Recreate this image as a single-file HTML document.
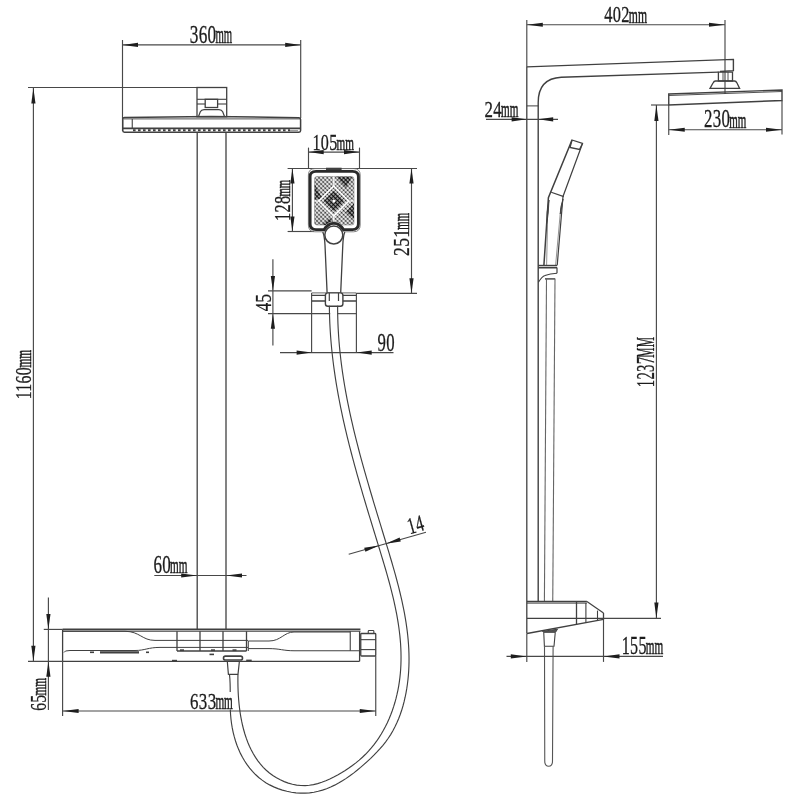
<!DOCTYPE html>
<html><head><meta charset="utf-8"><style>
html,body{margin:0;padding:0;background:#fff;}
svg{display:block;will-change:transform;}
text{font-family:"Liberation Serif",serif;fill:#1c1c1c;}
text{stroke:#1c1c1c;stroke-width:0.3;}
text.mm{stroke:#1c1c1c;stroke-width:0.55;}
</style></head><body>
<svg width="800" height="800" viewBox="0 0 800 800">
<rect width="800" height="800" fill="#fff"/>
<line x1="122.5" y1="44.9" x2="300.7" y2="44.9" stroke="#484848" stroke-width="1.15"/>
<polygon points="122.50,44.90 138.00,42.80 138.00,47.00" fill="#1e1e1e"/>
<polygon points="300.70,44.90 285.20,47.00 285.20,42.80" fill="#1e1e1e"/>
<line x1="122.5" y1="40" x2="122.5" y2="131" stroke="#484848" stroke-width="1.15"/>
<line x1="300.7" y1="40" x2="300.7" y2="118" stroke="#484848" stroke-width="1.15"/>
<g transform="scale(0.6995,1)"><text x="271.18" y="43" font-size="24.66" letter-spacing="0.474">360</text></g>
<text class="mm" x="215.48" y="43" font-size="25.53" textLength="16.73" lengthAdjust="spacingAndGlyphs">mm</text>
<line x1="28" y1="87.5" x2="226" y2="87.5" stroke="#484848" stroke-width="1.15"/>
<line x1="33.4" y1="88" x2="33.4" y2="661.3" stroke="#484848" stroke-width="1.15"/>
<polygon points="33.40,88.00 35.50,103.50 31.30,103.50" fill="#1e1e1e"/>
<polygon points="33.40,661.30 31.30,645.80 35.50,645.80" fill="#1e1e1e"/>
<g transform="translate(30.8,398.6) rotate(-90)">
<g transform="scale(0.6648,1)"><text x="-1.13" y="0" font-size="23.76" letter-spacing="0.457">1160</text></g>
<text class="mm" x="31.07" y="0" font-size="22.34" textLength="17.76" lengthAdjust="spacingAndGlyphs">mm</text>
</g>
<rect x="197" y="87.5" width="29.7" height="29.2" rx="0" stroke="#404040" stroke-width="1.3" fill="none"/>
<line x1="197" y1="99.3" x2="226.7" y2="99.3" stroke="#404040" stroke-width="1.1"/>
<rect x="205.2" y="99.3" width="12.4" height="8.2" rx="0" stroke="#404040" stroke-width="1.3" fill="none"/>
<line x1="197" y1="104" x2="205.2" y2="104" stroke="#404040" stroke-width="1.1"/>
<line x1="217.6" y1="104" x2="226.7" y2="104" stroke="#404040" stroke-width="1.1"/>
<path d="M198.5,116.5 L200.3,111.8 Q201.3,109.6 204,109.6 L219,109.6 Q221.7,109.6 222.7,111.8 L224.5,116.5" stroke="#404040" stroke-width="1.2" fill="none" />
<path d="M122.75,130 L122.75,119 Q122.75,117.5 124.5,117.5 L211,116.4 L299,117.8 Q300.6,118 300.6,119.5 L300.6,130.5 Q300.6,132.2 299,132.2 L124.5,132.2 Q122.75,132.2 122.75,130.5 Z" stroke="#404040" stroke-width="1.5" fill="none" />
<line x1="123.5" y1="118.9" x2="300" y2="118.9" stroke="#404040" stroke-width="0.9"/>
<line x1="132.25" y1="118.9" x2="132.25" y2="128.3" stroke="#404040" stroke-width="1.1"/>
<line x1="122.75" y1="128.4" x2="300.6" y2="128.4" stroke="#404040" stroke-width="1.6"/>
<path d="M133,130.2 L290,130.2" stroke="#404040" stroke-width="1.9" fill="none" stroke-dasharray="2.6,2.4"/>
<line x1="290" y1="130.6" x2="298" y2="130.6" stroke="#777" stroke-width="0.8"/>
<line x1="197.2" y1="132.3" x2="197.2" y2="629.4" stroke="#404040" stroke-width="1.3"/>
<line x1="226" y1="132.3" x2="226" y2="629.4" stroke="#404040" stroke-width="1.3"/>
<line x1="154.3" y1="575.5" x2="246.5" y2="575.5" stroke="#484848" stroke-width="1.15"/>
<polygon points="197.20,575.50 181.20,577.60 181.20,573.40" fill="#1e1e1e"/>
<polygon points="226.00,575.50 242.00,573.40 242.00,577.60" fill="#1e1e1e"/>
<g transform="scale(0.7061,1)"><text x="217.32" y="573.3" font-size="24.14" letter-spacing="0.464">60</text></g>
<text class="mm" x="170.08" y="573.3" font-size="22.98" textLength="17.40" lengthAdjust="spacingAndGlyphs">mm</text>
<line x1="62.6" y1="629.4" x2="360.4" y2="629.4" stroke="#404040" stroke-width="1.9"/>
<line x1="62.6" y1="631.25" x2="360.4" y2="631.25" stroke="#404040" stroke-width="1.1"/>
<line x1="62.6" y1="629.4" x2="62.6" y2="661.3" stroke="#404040" stroke-width="1.3"/>
<line x1="62.6" y1="661.3" x2="62.6" y2="716" stroke="#484848" stroke-width="1.15"/>
<line x1="62.6" y1="661.3" x2="359.6" y2="661.3" stroke="#404040" stroke-width="1.3"/>
<line x1="28" y1="661.3" x2="62.6" y2="661.3" stroke="#484848" stroke-width="1.15"/>
<line x1="359.6" y1="631.25" x2="359.6" y2="661.3" stroke="#404040" stroke-width="1.3"/>
<path d="M62.6,631.25 L125,631.25 C140,631.5 142,640.4 155,640.4 L248,640.4" stroke="#404040" stroke-width="1" fill="none" />
<path d="M64,652.5 Q64,650.5 70,650.5 L135,650.5 C145,650.5 148,647.4 160,647.4 L248,647.4" stroke="#404040" stroke-width="1" fill="none" />
<line x1="177" y1="631.25" x2="177" y2="651" stroke="#404040" stroke-width="1.3"/>
<line x1="200" y1="631.25" x2="200" y2="651" stroke="#404040" stroke-width="1.3"/>
<line x1="223" y1="631.25" x2="223" y2="651" stroke="#404040" stroke-width="1.3"/>
<line x1="246.5" y1="631.25" x2="246.5" y2="651" stroke="#404040" stroke-width="1.3"/>
<line x1="177" y1="651" x2="246.5" y2="651" stroke="#404040" stroke-width="1.5"/>
<path d="M248.3,641 L269,641 C281,641 284,632 294,632 L350.25,632" stroke="#404040" stroke-width="1" fill="none" />
<path d="M248.3,648.6 L269,648.6 C280,648.6 283,650.75 294,650.75 L359.6,650.75" stroke="#404040" stroke-width="1" fill="none" />
<line x1="248.3" y1="641" x2="248.3" y2="651" stroke="#404040" stroke-width="1"/>
<line x1="350.25" y1="631.25" x2="350.25" y2="650.75" stroke="#404040" stroke-width="1.1"/>
<line x1="90" y1="652.3" x2="94" y2="652.3" stroke="#404040" stroke-width="1.6"/>
<line x1="100" y1="652.3" x2="139" y2="652.3" stroke="#404040" stroke-width="2.3"/>
<line x1="146" y1="652.3" x2="149" y2="652.3" stroke="#404040" stroke-width="1.6"/>
<line x1="172" y1="660.6" x2="177" y2="660.6" stroke="#404040" stroke-width="1.6"/>
<line x1="180" y1="650.2" x2="184" y2="650.2" stroke="#404040" stroke-width="1.8"/>
<line x1="209.5" y1="654.4" x2="214" y2="654.4" stroke="#404040" stroke-width="1.6"/>
<line x1="211" y1="650.2" x2="215" y2="650.2" stroke="#404040" stroke-width="1.8"/>
<line x1="232.5" y1="650.2" x2="236.5" y2="650.2" stroke="#404040" stroke-width="1.8"/>
<line x1="246.2" y1="660.5" x2="251.7" y2="660.5" stroke="#404040" stroke-width="1.8"/>
<rect x="360.75" y="633.5" width="15" height="22.5" rx="0.8" stroke="#404040" stroke-width="1.3" fill="none"/>
<line x1="360.75" y1="639.65" x2="375.75" y2="639.65" stroke="#404040" stroke-width="1.1"/>
<line x1="360.75" y1="649.6" x2="375.75" y2="649.6" stroke="#404040" stroke-width="1.1"/>
<rect x="368.25" y="630.5" width="5.6" height="3" rx="0.8" stroke="#404040" stroke-width="1.1" fill="none"/>
<rect x="223.5" y="656.15" width="19" height="3.9" rx="1.9" stroke="#404040" stroke-width="1.6" fill="none"/>
<path d="M227.3,661.3 L228.4,674.4 L238,674.4 L239.4,661.3" stroke="#404040" stroke-width="1.2" fill="none" />
<line x1="48.4" y1="597.5" x2="48.4" y2="710" stroke="#484848" stroke-width="1.15"/>
<polygon points="48.40,629.40 46.30,613.90 50.50,613.90" fill="#1e1e1e"/>
<polygon points="48.40,661.30 50.50,676.80 46.30,676.80" fill="#1e1e1e"/>
<line x1="43.75" y1="629.4" x2="62.6" y2="629.4" stroke="#484848" stroke-width="1.15"/>
<g transform="translate(45.6,710) rotate(-90)">
<g transform="scale(0.6642,1)"><text x="-1.11" y="0" font-size="23.46" letter-spacing="0.451">65</text></g>
<text class="mm" x="14.47" y="0" font-size="21.28" textLength="17.65" lengthAdjust="spacingAndGlyphs">mm</text>
</g>
<line x1="62.6" y1="711" x2="376" y2="711" stroke="#484848" stroke-width="1.15"/>
<polygon points="62.60,711.00 78.60,708.90 78.60,713.10" fill="#1e1e1e"/>
<polygon points="375.75,711.00 359.75,713.10 359.75,708.90" fill="#1e1e1e"/>
<line x1="375.75" y1="656" x2="375.75" y2="716" stroke="#484848" stroke-width="1.15"/>
<line x1="308.5" y1="152.1" x2="359.5" y2="152.1" stroke="#484848" stroke-width="1.15"/>
<polygon points="308.50,152.10 323.70,150.00 323.70,154.20" fill="#1e1e1e"/>
<polygon points="359.50,152.10 344.00,154.20 344.00,150.00" fill="#1e1e1e"/>
<line x1="308.5" y1="147.6" x2="308.5" y2="168.4" stroke="#484848" stroke-width="1.15"/>
<line x1="359.5" y1="147.6" x2="359.5" y2="168.4" stroke="#484848" stroke-width="1.15"/>
<g transform="scale(0.6955,1)"><text x="449.27" y="149.9" font-size="23.16" letter-spacing="0.445">105</text></g>
<text class="mm" x="336.58" y="149.9" font-size="21.60" textLength="17.40" lengthAdjust="spacingAndGlyphs">mm</text>
<line x1="287.6" y1="168.5" x2="417" y2="168.5" stroke="#484848" stroke-width="1.15"/>
<line x1="292.4" y1="168.5" x2="292.4" y2="231.5" stroke="#484848" stroke-width="1.15"/>
<polygon points="292.40,168.50 294.50,183.50 290.30,183.50" fill="#1e1e1e"/>
<polygon points="292.40,231.50 290.30,216.50 294.50,216.50" fill="#1e1e1e"/>
<line x1="287.6" y1="231.5" x2="314" y2="231.5" stroke="#484848" stroke-width="1.15"/>
<g transform="translate(290.1,220.3) rotate(-90)">
<g transform="scale(0.6824,1)"><text x="-1.14" y="0" font-size="24.06" letter-spacing="0.463">128</text></g>
<text class="mm" x="23.79" y="0" font-size="21.28" textLength="16.63" lengthAdjust="spacingAndGlyphs">mm</text>
</g>
<line x1="411.5" y1="168.5" x2="411.5" y2="293.3" stroke="#484848" stroke-width="1.15"/>
<polygon points="411.50,168.50 413.60,183.50 409.40,183.50" fill="#1e1e1e"/>
<polygon points="411.50,293.30 409.40,278.30 413.60,278.30" fill="#1e1e1e"/>
<line x1="356.7" y1="293.3" x2="417" y2="293.3" stroke="#484848" stroke-width="1.15"/>
<g transform="translate(409.1,255.1) rotate(-90)">
<g transform="scale(0.7406,1)"><text x="-1.13" y="0" font-size="23.76" letter-spacing="0.457">251</text></g>
<text class="mm" x="25.48" y="0" font-size="22.34" textLength="16.73" lengthAdjust="spacingAndGlyphs">mm</text>
</g>
<defs><pattern id="dots" width="2.9" height="2.9" patternUnits="userSpaceOnUse" patternTransform="translate(317,202.5) rotate(45)"><circle cx="1.45" cy="1.45" r="1.08" fill="#111"/></pattern><pattern id="dots2" width="2.9" height="2.9" patternUnits="userSpaceOnUse" patternTransform="translate(317,202.5) rotate(45)"><circle cx="1.45" cy="1.45" r="1.3" fill="#0a0a0a"/></pattern></defs>
<path d="M308.4,175 Q308.4,168.6 315,168.6 L353.5,168.6 Q360.2,168.6 360.2,175 L360.2,225 Q360.2,231.8 353.5,231.8 L344,231.8 Q339,226.5 333.8,226.5 Q328.6,226.5 323.6,231.8 L315,231.8 Q308.4,231.8 308.4,225 Z" stroke="#777" stroke-width="0.9" fill="none" />
<path d="M310.1,176.5 Q310.1,171.4 316,171.4 L352.5,171.4 Q358.4,171.4 358.4,176.5 L358.4,224 Q358.4,229.6 352.5,229.6 L343.5,229.6 Q339.5,223.2 333.8,223.2 Q328.1,223.2 324.1,229.6 L316,229.6 Q310.1,229.6 310.1,224 Z" stroke="#2a2a2a" stroke-width="2.9" fill="none" />
<clipPath id="dclip"><path d="M314.5,179 Q314.5,176.5 317,176.5 L351.5,176.5 Q354,176.5 354,179 L354,222.5 Q354,225 351.5,225 L342,225 Q338.5,221.5 333.8,221.5 Q329,221.5 325.5,225 L317,225 Q314.5,225 314.5,222.5 Z"/></clipPath>
<path d="M314.5,179 Q314.5,176.5 317,176.5 L351.5,176.5 Q354,176.5 354,179 L354,222.5 Q354,225 351.5,225 L342,225 Q338.5,221.5 333.8,221.5 Q329,221.5 325.5,225 L317,225 Q314.5,225 314.5,222.5 Z" stroke="#888" stroke-width="0.6" fill="url(#dots)" />
<g clip-path="url(#dclip)">
<path d="M323.5,201 L333.8,190.7 L344.1,201 L333.8,211.3 Z" fill="url(#dots2)"/>
<path d="M336,176.5 L352,176.5 L346,188 Z" fill="url(#dots2)"/>
<path d="M314.5,184 L322,198 L314.5,200 Z" fill="url(#dots2)"/>
<path d="M354,203 L346,212 L354,219 Z" fill="url(#dots2)"/>
<path d="M322,225 L330,218 L336,225 Z" fill="url(#dots2)"/>
<path d="M333.8,186 L348.8,201 L333.8,216 L318.8,201 Z" stroke="#fff" stroke-width="1.3" fill="none"/>
<path d="M333.8,176 L333.8,186 M333.8,216 L333.8,225 M314,201 L318.8,201 M348.8,201 L354,201" stroke="#fff" stroke-width="1.2" fill="none"/>
</g>
<circle cx="333.8" cy="201" r="1.5" fill="#fff"/>
<line x1="326" y1="168.9" x2="341.6" y2="168.9" stroke="#404040" stroke-width="2.4"/>
<circle cx="333.8" cy="235" r="9" stroke="#404040" stroke-width="1.5" fill="#fff"/>
<path d="M322.8,232 Q324.5,236 325,245 L327.1,292.9" stroke="#404040" stroke-width="1.3" fill="none" />
<path d="M344.8,232 Q343.2,236 342.8,245 L340.7,292.9" stroke="#404040" stroke-width="1.3" fill="none" />
<line x1="311.6" y1="292.9" x2="356.4" y2="292.9" stroke="#666" stroke-width="1.0"/>
<line x1="311.6" y1="295.4" x2="356.4" y2="295.4" stroke="#404040" stroke-width="1.4"/>
<line x1="311.6" y1="301" x2="356.4" y2="301" stroke="#404040" stroke-width="1.4"/>
<line x1="311.6" y1="292.9" x2="311.6" y2="352.8" stroke="#484848" stroke-width="1.15"/>
<line x1="356.4" y1="292.9" x2="356.4" y2="352.8" stroke="#484848" stroke-width="1.15"/>
<rect x="325.4" y="292.9" width="17.5" height="13.4" fill="#fff"/>
<rect x="325.4" y="292.9" width="17.5" height="13.4" rx="2.5" stroke="#404040" stroke-width="1.4" fill="none"/>
<line x1="329.3" y1="292.9" x2="329.3" y2="301" stroke="#404040" stroke-width="1.2"/>
<line x1="338.5" y1="292.9" x2="338.5" y2="301" stroke="#404040" stroke-width="1.2"/>
<line x1="272.9" y1="259.3" x2="272.9" y2="345.4" stroke="#484848" stroke-width="1.15"/>
<polygon points="272.90,290.90 270.80,275.90 275.00,275.90" fill="#1e1e1e"/>
<polygon points="272.90,313.65 275.00,328.65 270.80,328.65" fill="#1e1e1e"/>
<line x1="268" y1="290.9" x2="311.6" y2="290.9" stroke="#484848" stroke-width="1.15"/>
<line x1="268" y1="313.65" x2="330.2" y2="313.65" stroke="#484848" stroke-width="1.15"/>
<line x1="337.5" y1="313.65" x2="356.4" y2="313.65" stroke="#484848" stroke-width="1.15"/>
<g transform="translate(270.5,310.4) rotate(-90)">
<g transform="scale(0.7015,1)"><text x="-1.14" y="0" font-size="24.06" letter-spacing="0.463">45</text></g>
</g>
<line x1="280" y1="352.6" x2="393.5" y2="352.6" stroke="#484848" stroke-width="1.15"/>
<polygon points="311.60,352.60 296.60,354.70 296.60,350.50" fill="#1e1e1e"/>
<polygon points="356.70,352.60 371.70,350.50 371.70,354.70" fill="#1e1e1e"/>
<g transform="scale(0.6759,1)"><text x="558.44" y="350.75" font-size="24.81" letter-spacing="0.477">90</text></g>
<path d="M329.36,305.81 L329.41,310.18 L329.51,314.53 L329.65,318.88 L329.82,323.21 L330.04,327.53 L330.30,331.84 L330.59,336.14 L330.93,340.43 L331.30,344.71 L331.70,348.98 L332.14,353.24 L332.62,357.48 L333.13,361.72 L333.67,365.95 L334.24,370.17 L334.85,374.39 L335.48,378.59 L336.15,382.79 L336.85,386.98 L337.57,391.16 L338.33,395.34 L339.11,399.51 L339.91,403.67 L340.75,407.83 L341.60,411.98 L342.48,416.12 L343.39,420.26 L344.32,424.40 L345.27,428.53 L346.24,432.66 L347.23,436.78 L348.24,440.90 L349.27,445.02 L350.32,449.14 L351.39,453.25 L352.47,457.36 L353.57,461.46 L354.69,465.57 L355.82,469.67 L356.96,473.78 L358.12,477.88 L359.28,481.98 L360.47,486.08 L361.66,490.19 L362.86,494.29 L364.07,498.39 L365.29,502.49 L366.52,506.60 L367.76,510.71 L369.00,514.82 L370.25,518.93 L371.50,523.04 L372.76,527.16 L374.02,531.28 L375.29,535.40 L376.55,539.53 L377.82,543.66 L379.09,547.79 L380.35,551.93 L381.62,556.08 L382.87,560.22 L384.11,564.38 L385.33,568.53 L386.53,572.69 L387.71,576.85 L388.87,581.02 L389.99,585.19 L391.08,589.36 L392.13,593.54 L393.14,597.71 L394.11,601.89 L395.03,606.08 L395.90,610.26 L396.71,614.45 L397.46,618.64 L398.16,622.83 L398.78,627.02 L399.34,631.22 L399.83,635.41 L400.24,639.61 L400.57,643.81 L400.81,648.01 L400.97,652.21 L401.04,656.41 L401.02,660.61 L400.90,664.81 L400.68,669.02 L400.35,673.22 L399.92,677.42 L399.38,681.62 L398.72,685.82 L397.94,690.02 L397.04,694.21 L396.03,698.39 L394.89,702.53 L393.63,706.65 L392.25,710.74 L390.74,714.77 L389.10,718.76 L387.34,722.69 L385.45,726.55 L383.43,730.34 L381.28,734.05 L378.99,737.68 L376.58,741.21 L374.02,744.65 L371.33,747.97 L368.51,751.19 L365.54,754.28 L362.44,757.25 L359.21,760.10 L355.87,762.84 L352.41,765.47 L348.85,767.99 L345.20,770.40 L341.47,772.72 L337.65,774.94 L333.77,777.04 L329.82,779.00 L325.82,780.77 L321.76,782.32 L317.65,783.61 L313.51,784.61 L309.32,785.29 L305.11,785.60 L300.87,785.52 L296.63,785.07 L292.43,784.25 L288.28,783.09 L284.22,781.62 L280.27,779.85 L276.48,777.81 L272.85,775.51 L269.43,772.98 L266.23,770.24 L263.25,767.30 L260.47,764.17 L257.89,760.86 L255.50,757.40 L253.31,753.79 L251.29,750.05 L249.45,746.19 L247.77,742.21 L246.25,738.15 L244.89,734.00 L243.67,729.78 L242.59,725.51 L241.64,721.20 L240.82,716.86 L240.11,712.50 L239.52,708.14 L239.03,703.80 L238.64,699.47 L238.34,695.18 L238.12,690.95 L237.98,686.77 L237.91,682.68 L237.90,678.67 L237.95,674.77" stroke="#404040" stroke-width="1.15" fill="none" />
<path d="M337.63,305.85 L337.64,310.38 L337.70,314.90 L337.81,319.40 L337.96,323.89 L338.17,328.37 L338.42,332.84 L338.71,337.30 L339.05,341.75 L339.43,346.19 L339.86,350.62 L340.32,355.04 L340.83,359.45 L341.37,363.86 L341.95,368.25 L342.57,372.64 L343.23,377.02 L343.92,381.39 L344.65,385.75 L345.40,390.10 L346.19,394.45 L347.02,398.80 L347.87,403.13 L348.75,407.46 L349.66,411.79 L350.60,416.10 L351.56,420.42 L352.55,424.73 L353.56,429.03 L354.60,433.33 L355.65,437.63 L356.73,441.92 L357.84,446.21 L358.96,450.50 L360.09,454.78 L361.25,459.06 L362.42,463.34 L363.61,467.61 L364.81,471.89 L366.03,476.16 L367.26,480.43 L368.50,484.71 L369.75,488.98 L371.01,493.25 L372.28,497.52 L373.55,501.79 L374.84,506.06 L376.13,510.33 L377.42,514.61 L378.72,518.88 L380.02,523.16 L381.32,527.44 L382.63,531.72 L383.93,536.00 L385.23,540.29 L386.53,544.58 L387.83,548.87 L389.11,553.17 L390.39,557.47 L391.66,561.77 L392.91,566.08 L394.14,570.39 L395.34,574.70 L396.52,579.02 L397.67,583.34 L398.78,587.67 L399.85,592.00 L400.89,596.34 L401.87,600.67 L402.81,605.02 L403.70,609.36 L404.53,613.72 L405.30,618.07 L406.01,622.43 L406.66,626.80 L407.23,631.17 L407.73,635.54 L408.16,639.92 L408.50,644.30 L408.77,648.69 L408.94,653.08 L409.03,657.48 L409.02,661.88 L408.91,666.29 L408.70,670.70 L408.39,675.12 L407.97,679.54 L407.43,683.97 L406.79,688.40 L406.02,692.83 L405.13,697.24 L404.11,701.63 L402.95,705.98 L401.66,710.29 L400.22,714.54 L398.62,718.73 L396.88,722.84 L394.98,726.86 L392.91,730.78 L390.67,734.60 L388.25,738.29 L385.67,741.87 L382.93,745.33 L380.04,748.70 L377.03,751.97 L373.91,755.17 L370.69,758.31 L367.39,761.38 L364.02,764.41 L360.59,767.39 L357.09,770.29 L353.53,773.09 L349.90,775.79 L346.20,778.36 L342.42,780.79 L338.58,783.06 L334.66,785.14 L330.68,787.02 L326.61,788.69 L322.47,790.12 L318.25,791.30 L313.95,792.21 L309.58,792.84 L305.12,793.15 L300.58,793.15 L296.00,792.84 L291.42,792.22 L286.86,791.30 L282.37,790.10 L277.98,788.63 L273.73,786.88 L269.65,784.88 L265.79,782.64 L262.14,780.16 L258.71,777.45 L255.49,774.54 L252.47,771.43 L249.66,768.13 L247.06,764.67 L244.65,761.05 L242.44,757.28 L240.42,753.38 L238.60,749.36 L236.96,745.24 L235.51,741.02 L234.25,736.72 L233.16,732.36 L232.25,727.94 L231.52,723.48 L230.96,718.99 L230.57,714.48 L230.33,709.97 L230.22,705.46 L230.19,700.96 L230.20,696.47 L230.21,692.01 L230.19,687.57 L230.09,683.16 L229.87,678.79 L229.49,674.46" stroke="#404040" stroke-width="1.15" fill="none" />
<line x1="348.7" y1="554.3" x2="426" y2="532.3" stroke="#484848" stroke-width="1.15"/>
<polygon points="379.20,545.60 365.38,551.79 364.21,547.76" fill="#1e1e1e"/>
<polygon points="385.80,543.70 399.62,537.51 400.79,541.54" fill="#1e1e1e"/>
<g transform="translate(410.5,534) rotate(-15.5)">
<g transform="scale(0.6731,1)"><text x="-1.11" y="0" font-size="23.31" letter-spacing="0.448">14</text></g>
</g>
<rect x="190" y="692" width="43.5" height="17.5" fill="#fff"/>
<g transform="scale(0.7252,1)"><text x="262.12" y="708.7" font-size="23.31" letter-spacing="0.448">633</text></g>
<text class="mm" x="215.38" y="708.7" font-size="22.77" textLength="17.45" lengthAdjust="spacingAndGlyphs">mm</text>
<line x1="526.8" y1="24.75" x2="725" y2="24.75" stroke="#484848" stroke-width="1.15"/>
<polygon points="526.80,24.75 542.80,22.65 542.80,26.85" fill="#1e1e1e"/>
<polygon points="725.00,24.75 709.00,26.85 709.00,22.65" fill="#1e1e1e"/>
<line x1="526.8" y1="20" x2="526.8" y2="66.9" stroke="#484848" stroke-width="1.15"/>
<line x1="725" y1="20" x2="725" y2="94" stroke="#484848" stroke-width="1.15"/>
<g transform="scale(0.6918,1)"><text x="873.58" y="22.5" font-size="23.68" letter-spacing="0.455">402</text></g>
<text class="mm" x="628.82" y="22.5" font-size="23.19" textLength="18.17" lengthAdjust="spacingAndGlyphs">mm</text>
<path d="M526.8,66.9 L733.4,59.4 L733.4,70.6 L720,71.5" stroke="#404040" stroke-width="1.4" fill="none" />
<path d="M718.4,72.1 L561.25,77.25 Q538.2,78.5 538.2,102.5 L538.2,601.5" stroke="#404040" stroke-width="1.4" fill="none" />
<line x1="526.8" y1="66.9" x2="526.8" y2="633.5" stroke="#404040" stroke-width="1.3"/>
<line x1="526.8" y1="633.5" x2="526.8" y2="661.9" stroke="#484848" stroke-width="1.15"/>
<line x1="526.8" y1="105.9" x2="538.2" y2="105.9" stroke="#404040" stroke-width="1"/>
<rect x="718.4" y="72.1" width="14.1" height="8.9" rx="0" stroke="#404040" stroke-width="1.3" fill="none"/>
<line x1="723" y1="72.1" x2="723" y2="81" stroke="#404040" stroke-width="0.9"/>
<line x1="728" y1="72.1" x2="728" y2="81" stroke="#404040" stroke-width="0.9"/>
<path d="M715.5,81 L734.5,81 Q736,81 737,83 L739.6,88.4 L710,88.4 L713,83 Q714,81 715.5,81 Z" stroke="#404040" stroke-width="1.3" fill="none" />
<path d="M668.75,94 L782,90 L782,100.5 L668.75,105 Z" stroke="#404040" stroke-width="1.4" fill="none" />
<line x1="669" y1="95.5" x2="782" y2="91.5" stroke="#404040" stroke-width="0.9"/>
<line x1="668.75" y1="105" x2="668.75" y2="135" stroke="#484848" stroke-width="1.15"/>
<line x1="782" y1="100.5" x2="782" y2="134.4" stroke="#484848" stroke-width="1.15"/>
<line x1="651" y1="105" x2="668.75" y2="105" stroke="#484848" stroke-width="1.15"/>
<line x1="668.75" y1="129.75" x2="782" y2="129.75" stroke="#484848" stroke-width="1.15"/>
<polygon points="668.75,129.75 684.75,127.65 684.75,131.85" fill="#1e1e1e"/>
<polygon points="782.00,129.75 766.00,131.85 766.00,127.65" fill="#1e1e1e"/>
<g transform="scale(0.6968,1)"><text x="1010.30" y="127.5" font-size="24.21" letter-spacing="0.466">230</text></g>
<text class="mm" x="729.18" y="127.5" font-size="22.34" textLength="17.04" lengthAdjust="spacingAndGlyphs">mm</text>
<line x1="486" y1="119.3" x2="558" y2="119.3" stroke="#484848" stroke-width="1.15"/>
<polygon points="526.60,119.30 511.60,121.40 511.60,117.20" fill="#1e1e1e"/>
<polygon points="538.20,119.30 553.20,117.20 553.20,121.40" fill="#1e1e1e"/>
<g transform="scale(0.7015,1)"><text x="690.63" y="116.9" font-size="24.06" letter-spacing="0.463">24</text></g>
<text class="mm" x="500.98" y="116.9" font-size="23.40" textLength="17.35" lengthAdjust="spacingAndGlyphs">mm</text>
<line x1="656.4" y1="105" x2="656.4" y2="618.4" stroke="#484848" stroke-width="1.15"/>
<polygon points="656.40,105.00 658.50,121.00 654.30,121.00" fill="#1e1e1e"/>
<polygon points="656.40,618.40 654.30,602.40 658.50,602.40" fill="#1e1e1e"/>
<g transform="translate(654,386.5) rotate(-90)">
<g transform="scale(0.6007,1)"><text x="-1.16" y="0" font-size="24.51" letter-spacing="0.471">1237</text></g>
<text x="28.85" y="0" font-size="25.08" textLength="20.73" lengthAdjust="spacingAndGlyphs">MM</text>
</g>
<path d="M572,140 L582.5,143.5 L579.5,149.5 L570,147.5 Z" stroke="#404040" stroke-width="1.3" fill="none" />
<path d="M572,140 L548.4,197.6 L543.9,265.4" stroke="#404040" stroke-width="1.5" fill="none" />
<path d="M582.5,143.5 L563,196.5 L557.2,265.4" stroke="#404040" stroke-width="1.2" fill="none" />
<line x1="551.2" y1="192.3" x2="563.8" y2="196.6" stroke="#404040" stroke-width="1.2"/>
<path d="M549,200 Q546.5,212 546.8,224 Q548.5,214 549,200" stroke="#404040" stroke-width="0.9" fill="#555" />
<path d="M563,199 Q560,208 560.2,214 Q562,207 563,199" stroke="#404040" stroke-width="0.9" fill="#555" />
<path d="M547.5,224 L546.6,265.4" stroke="#777" stroke-width="0.8" fill="none" />
<path d="M560.2,214 L555.6,265.4" stroke="#777" stroke-width="0.8" fill="none" />
<line x1="538.2" y1="265.4" x2="557" y2="265.4" stroke="#404040" stroke-width="1.2"/>
<line x1="538.2" y1="267.6" x2="557" y2="267.6" stroke="#404040" stroke-width="1.8"/>
<line x1="557" y1="267.6" x2="557" y2="273.2" stroke="#404040" stroke-width="1.2"/>
<path d="M538.4,282.3 Q542,276.5 545,275.5 Q550,273.5 557,273.25" stroke="#404040" stroke-width="1.1" fill="none" />
<line x1="545" y1="278.9" x2="555" y2="278.9" stroke="#404040" stroke-width="1.4"/>
<line x1="546.5" y1="278.5" x2="544.4" y2="601.5" stroke="#666" stroke-width="1.1"/>
<line x1="555" y1="278.5" x2="552.75" y2="601.5" stroke="#666" stroke-width="1.1"/>
<line x1="544.5" y1="151" x2="544.5" y2="160" stroke="#404040" stroke-width="0"/>
<line x1="527" y1="601.5" x2="586.9" y2="601.5" stroke="#404040" stroke-width="1.7"/>
<line x1="527" y1="603.1" x2="586.9" y2="603.1" stroke="#404040" stroke-width="1"/>
<line x1="576.5" y1="601.5" x2="576.5" y2="625" stroke="#404040" stroke-width="1.3"/>
<line x1="585.9" y1="603" x2="585.9" y2="622.5" stroke="#404040" stroke-width="1.1"/>
<line x1="586.9" y1="601.5" x2="603.5" y2="613" stroke="#404040" stroke-width="1.2"/>
<line x1="597.5" y1="610.6" x2="597.5" y2="620.6" stroke="#404040" stroke-width="1.1"/>
<line x1="603.5" y1="613" x2="603.5" y2="620" stroke="#404040" stroke-width="1.3"/>
<line x1="603.5" y1="620" x2="603.5" y2="661.9" stroke="#484848" stroke-width="1.15"/>
<line x1="527" y1="618.4" x2="603.5" y2="618.4" stroke="#404040" stroke-width="1.2"/>
<line x1="603.5" y1="618.4" x2="661" y2="618.4" stroke="#484848" stroke-width="1.15"/>
<line x1="527" y1="633.5" x2="603.5" y2="619.4" stroke="#404040" stroke-width="1.3"/>
<path d="M542.5,631.4 L557.5,629.2 L555.5,632.3 L543.5,632.3 Z" stroke="#404040" stroke-width="1.0" fill="#555" />
<path d="M543.75,632.5 L544.4,646.25 L554,646.25 L555.25,632.5" stroke="#404040" stroke-width="1.1" fill="none" />
<path d="M544.5,646.25 L544.75,761 Q544.75,766.2 548.7,766.2 Q552.5,766.2 552.5,761 L553.1,646.25" stroke="#555" stroke-width="1.1" fill="none" />
<line x1="506.5" y1="656.4" x2="663" y2="656.4" stroke="#484848" stroke-width="1.15"/>
<polygon points="526.80,656.40 510.80,658.50 510.80,654.30" fill="#1e1e1e"/>
<polygon points="603.50,656.40 619.50,654.30 619.50,658.50" fill="#1e1e1e"/>
<g transform="scale(0.6632,1)"><text x="937.43" y="654.4" font-size="24.29" letter-spacing="0.467">155</text></g>
<text class="mm" x="645.83" y="654.4" font-size="22.34" textLength="17.40" lengthAdjust="spacingAndGlyphs">mm</text>
</svg></body></html>
